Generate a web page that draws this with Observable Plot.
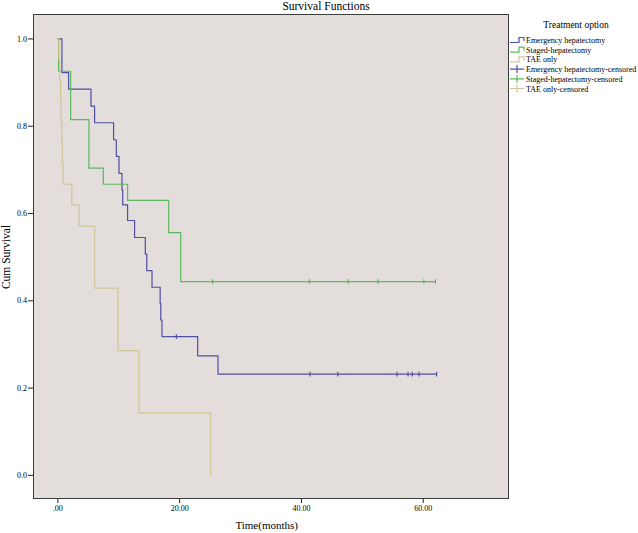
<!DOCTYPE html>
<html><head><meta charset="utf-8">
<script src="https://cdn.jsdelivr.net/npm/d3@7"></script>
<script src="https://cdn.jsdelivr.net/npm/@observablehq/plot@0.6"></script>
<style>
body{margin:0;background:#fff;}
#wrap{width:638px;height:533px;}
</style></head><body><div id="wrap"></div>
<script>
// ---- data ----
const groups = ["Emergency hepatectomy", "Staged-hepatectomy", "TAE only"];
const censoredLabels = ["Emergency hepatectomy-censored", "Staged-hepatectomy-censored", "TAE only-censored"];
const groupColors = ["#4f4fa3", "#5cb85c", "#cdc795"];

const emTime = [0, 0.67, 1.76, 5.44, 6.03, 9.15, 9.6, 10.04, 10.53, 10.65, 11.45, 12.6, 14.36, 14.6, 15.46, 16.8, 16.9, 17.1, 22.96, 26.3, 62.2];
const emSurv = [1, 0.923, 0.885, 0.846, 0.808, 0.769, 0.731, 0.692, 0.654, 0.620, 0.584, 0.545, 0.507, 0.469, 0.431, 0.394, 0.356, 0.318, 0.274, 0.232, 0.232];
const emCensTime = [19.46, 41.4, 45.97, 55.7, 57.5, 58.2, 59.3, 62.2];
const emCensSurv = [0.318, 0.232, 0.232, 0.232, 0.232, 0.232, 0.232, 0.232];

const stTime = [0, 0.12, 2.1, 5.1, 7.46, 11.45, 18.2, 20.17, 62.0];
const stSurv = [1, 0.926, 0.815, 0.704, 0.667, 0.630, 0.556, 0.444, 0.444];
const stCensTime = [25.4, 41.3, 47.7, 52.6, 60.1, 62.0];
const stCensSurv = [0.444, 0.444, 0.444, 0.444, 0.444, 0.444];

const taTime = [0, 0.15, 0.3, 0.45, 0.55, 0.65, 0.75, 0.85, 2.3, 3.5, 6.05, 9.9, 13.3, 25.1];
const taSurv = [1, 0.952, 0.905, 0.857, 0.810, 0.762, 0.714, 0.667, 0.619, 0.571, 0.429, 0.286, 0.143, 0];

const xTicks = [0, 20, 40, 60];
const yTicks = [0, 0.2, 0.4, 0.6, 0.8, 1.0];
const titleText = "Survival Functions";
const legendTitle = "Treatment option";
const xLabel = "Time(months)";
const yLabel = "Cum Survival";

// ---- tables ----
const steps = [
  ...emTime.map((t, i) => ({t, s: emSurv[i], g: groups[0]})),
  ...stTime.map((t, i) => ({t, s: stSurv[i], g: groups[1]})),
  ...taTime.map((t, i) => ({t, s: taSurv[i], g: groups[2]}))
];
const cens = [
  ...emCensTime.map((t, i) => ({t, s: emCensSurv[i], g: groups[0]})),
  ...stCensTime.map((t, i) => ({t, s: stCensSurv[i], g: groups[1]}))
];

const tickSymbol = {draw(ctx, size) { const h = Math.sqrt(size / Math.PI); ctx.moveTo(0, -h); ctx.lineTo(0, h); }};

const W = 638, H = 533;
const chart = Plot.plot({
  width: W, height: H,
  marginLeft: 33, marginRight: 130, marginTop: 14, marginBottom: 35,
  style: {fontFamily: "'Liberation Serif','Times New Roman',serif", fontSize: "8px", background: "#fff", color: "#000"},
  x: {domain: [-4, 74]},
  y: {domain: [-0.053, 1.056]},
  color: {domain: groups, range: groupColors},
  marks: [
    Plot.frame({fill: "#e3dddb", stroke: null}),
    Plot.line(steps, {x: "t", y: "s", z: "g", stroke: "g", curve: "step-after", strokeWidth: 1.2}),
    Plot.dot(cens, {x: "t", y: "s", stroke: "g", symbol: tickSymbol, r: 2.4, strokeWidth: 1.2}),
    Plot.axisX({ticks: xTicks, tickFormat: d => d === 0 ? ".00" : d.toFixed(2), tickSize: 5, tickPadding: 2, label: null, stroke: "#222"}),
    Plot.axisY({ticks: yTicks, tickFormat: d => d.toFixed(1), tickSize: 5, tickPadding: 1.5, label: null, stroke: "#222"}),
    Plot.frame({stroke: "#3c3c3c", strokeWidth: 1})
  ]
});
document.getElementById("wrap").appendChild(chart);

// ---- overlay text: title, axis labels, legend ----
const svg = d3.select(chart);
const ff = "'Liberation Serif','Times New Roman',serif";
svg.append("text").attr("x", 326).attr("y", 10).attr("text-anchor", "middle")
  .attr("font-family", ff).attr("font-size", 11.5).attr("fill", "#000").text(titleText);
svg.append("text").attr("x", 266.7).attr("y", 529).attr("text-anchor", "middle")
  .attr("font-family", ff).attr("font-size", 11).attr("fill", "#000").text(xLabel);
svg.append("text").attr("transform", "translate(9.5,257) rotate(-90)").attr("text-anchor", "middle")
  .attr("font-family", ff).attr("font-size", 11.5).attr("fill", "#000").text(yLabel);

const lg = svg.append("g");
lg.append("text").attr("x", 576).attr("y", 28).attr("text-anchor", "middle")
  .attr("font-family", ff).attr("font-size", 9.5).attr("fill", "#000").text(legendTitle);
const legendItems = [
  ...groups.map((g, i) => ({label: g, color: groupColors[i], kind: "line"})),
  ...censoredLabels.map((g, i) => ({label: g, color: groupColors[i], kind: "cens"}))
];
legendItems.forEach((d, i) => {
  const cy = 40 + i * 9.7;
  const row = lg.append("g").attr("transform", `translate(510,${cy})`);
  if (d.kind === "line") {
    row.append("path").attr("d", "M0,2.5 H9 V-2.5 H14 V1").attr("fill", "none").attr("stroke", d.color).attr("stroke-width", 1.2);
  } else {
    row.append("path").attr("d", "M0,0 H14 M7,-4 V4").attr("fill", "none").attr("stroke", d.color).attr("stroke-width", 1.2);
  }
  row.append("text").attr("x", 16).attr("y", 3).attr("text-anchor", "start")
    .attr("font-family", ff).attr("font-size", 8).attr("fill", "#000").text(d.label);
});
</script>
</body></html>
